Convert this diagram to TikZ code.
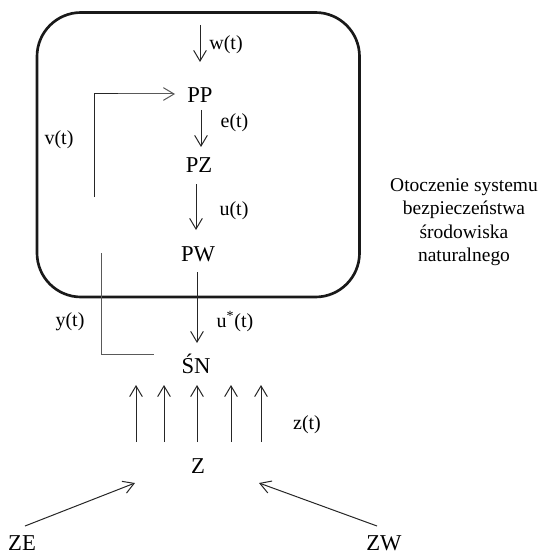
\documentclass[tikz,border=0pt]{standalone}
\usepackage{fontspec}
\setmainfont{Liberation Serif}
\usetikzlibrary{arrows.meta}
\begin{document}
\begin{tikzpicture}[x=0.75pt,y=-0.75pt,
  conn/.style={line width=0.75pt,draw=black!85},
  grayconn/.style={line width=0.75pt,draw=black!65},
  arr/.style={conn,-{Straight Barb[length=8pt,width=9.5pt,line width=0.75pt]}},
  grayarr/.style={grayconn,-{Straight Barb[length=8pt,width=9.5pt,line width=0.75pt]}},
  mainlbl/.style={font=\fontsize{17}{20}\selectfont,inner sep=0pt},
  siglbl/.style={font=\fontsize{15}{18}\selectfont,inner sep=0pt},
  sidetxt/.style={font=\fontsize{14.6}{17.5}\selectfont,align=center,inner sep=0pt},
  frame/.style={line width=2pt,rounded corners=33pt,draw=black!90}]
\useasboundingbox (0,0) rectangle (544,556);

% frame
\draw[frame] (37,12.5) rectangle (359.5,297);

% main nodes
\node[mainlbl] (PP) at (200,95) {PP};
\node[mainlbl] (PZ) at (199,165) {PZ};
\node[mainlbl] (PW) at (198,254) {PW};
\node[mainlbl,anchor=base] (SN) at (196,373.5) {ŚN};
\node[mainlbl] (Z) at (198,466) {Z};
\node[mainlbl] (ZE) at (22,543.5) {ZE};
\node[mainlbl] (ZW) at (384,543.5) {ZW};

% side text
\node[sidetxt] (env) at (464,222) {Otoczenie systemu\\bezpieczeństwa\\środowiska\\naturalnego};

% signal labels
\node[siglbl] (wl) at (226,45) {w(t)};
\node[siglbl] (el) at (234.5,123) {e(t)};
\node[siglbl] (ul) at (234,211) {u(t)};
\node[siglbl] (usl) at (235,322) {u\textsuperscript{*}(t)};
\node[siglbl] (vl) at (59,140) {v(t)};
\node[siglbl] (yl) at (70,322) {y(t)};
\node[siglbl] (zl) at (307,425) {z(t)};

% connector end points
\coordinate (w0) at (200,25);   \coordinate (w1) at (200,62);
\coordinate (e0) at (201,110);  \coordinate (e1) at (201,147);
\coordinate (u0) at (196,184);  \coordinate (u1) at (196,230);
\coordinate (s0) at (197,272);  \coordinate (s1) at (197,343);
\coordinate (v0) at (94,197);   \coordinate (vc) at (94,94);  \coordinate (v1) at (175,94);
\coordinate (y0) at (101,253);  \coordinate (yc) at (101,354); \coordinate (y1) at (154,354);
\coordinate (ze0) at (25,526);  \coordinate (ze1) at (135,483);
\coordinate (zw0) at (377,526); \coordinate (zw1) at (259,483);

\draw[arr] (w0) -- (w1);
\draw[arr] (e0) -- (e1);
\draw[arr] (u0) -- (u1);
\draw[arr] (s0) -- (s1);
\draw[conn] (v0) -- (vc) -- (118,94);
\draw[grayarr] (118,94) -- (v1);
\draw[grayconn] (y0) -- (yc) -- (y1);

% disturbances
\foreach \i/\x in {1/136,2/164,3/197,4/231,5/261}{
  \coordinate (zb\i) at (\x,442);
  \coordinate (zt\i) at (\x,385);
  \draw[arr] (zb\i) -- (zt\i);
}
\draw[arr] (ze0) -- (ze1);
\draw[arr] (zw0) -- (zw1);
\end{tikzpicture}
\end{document}
